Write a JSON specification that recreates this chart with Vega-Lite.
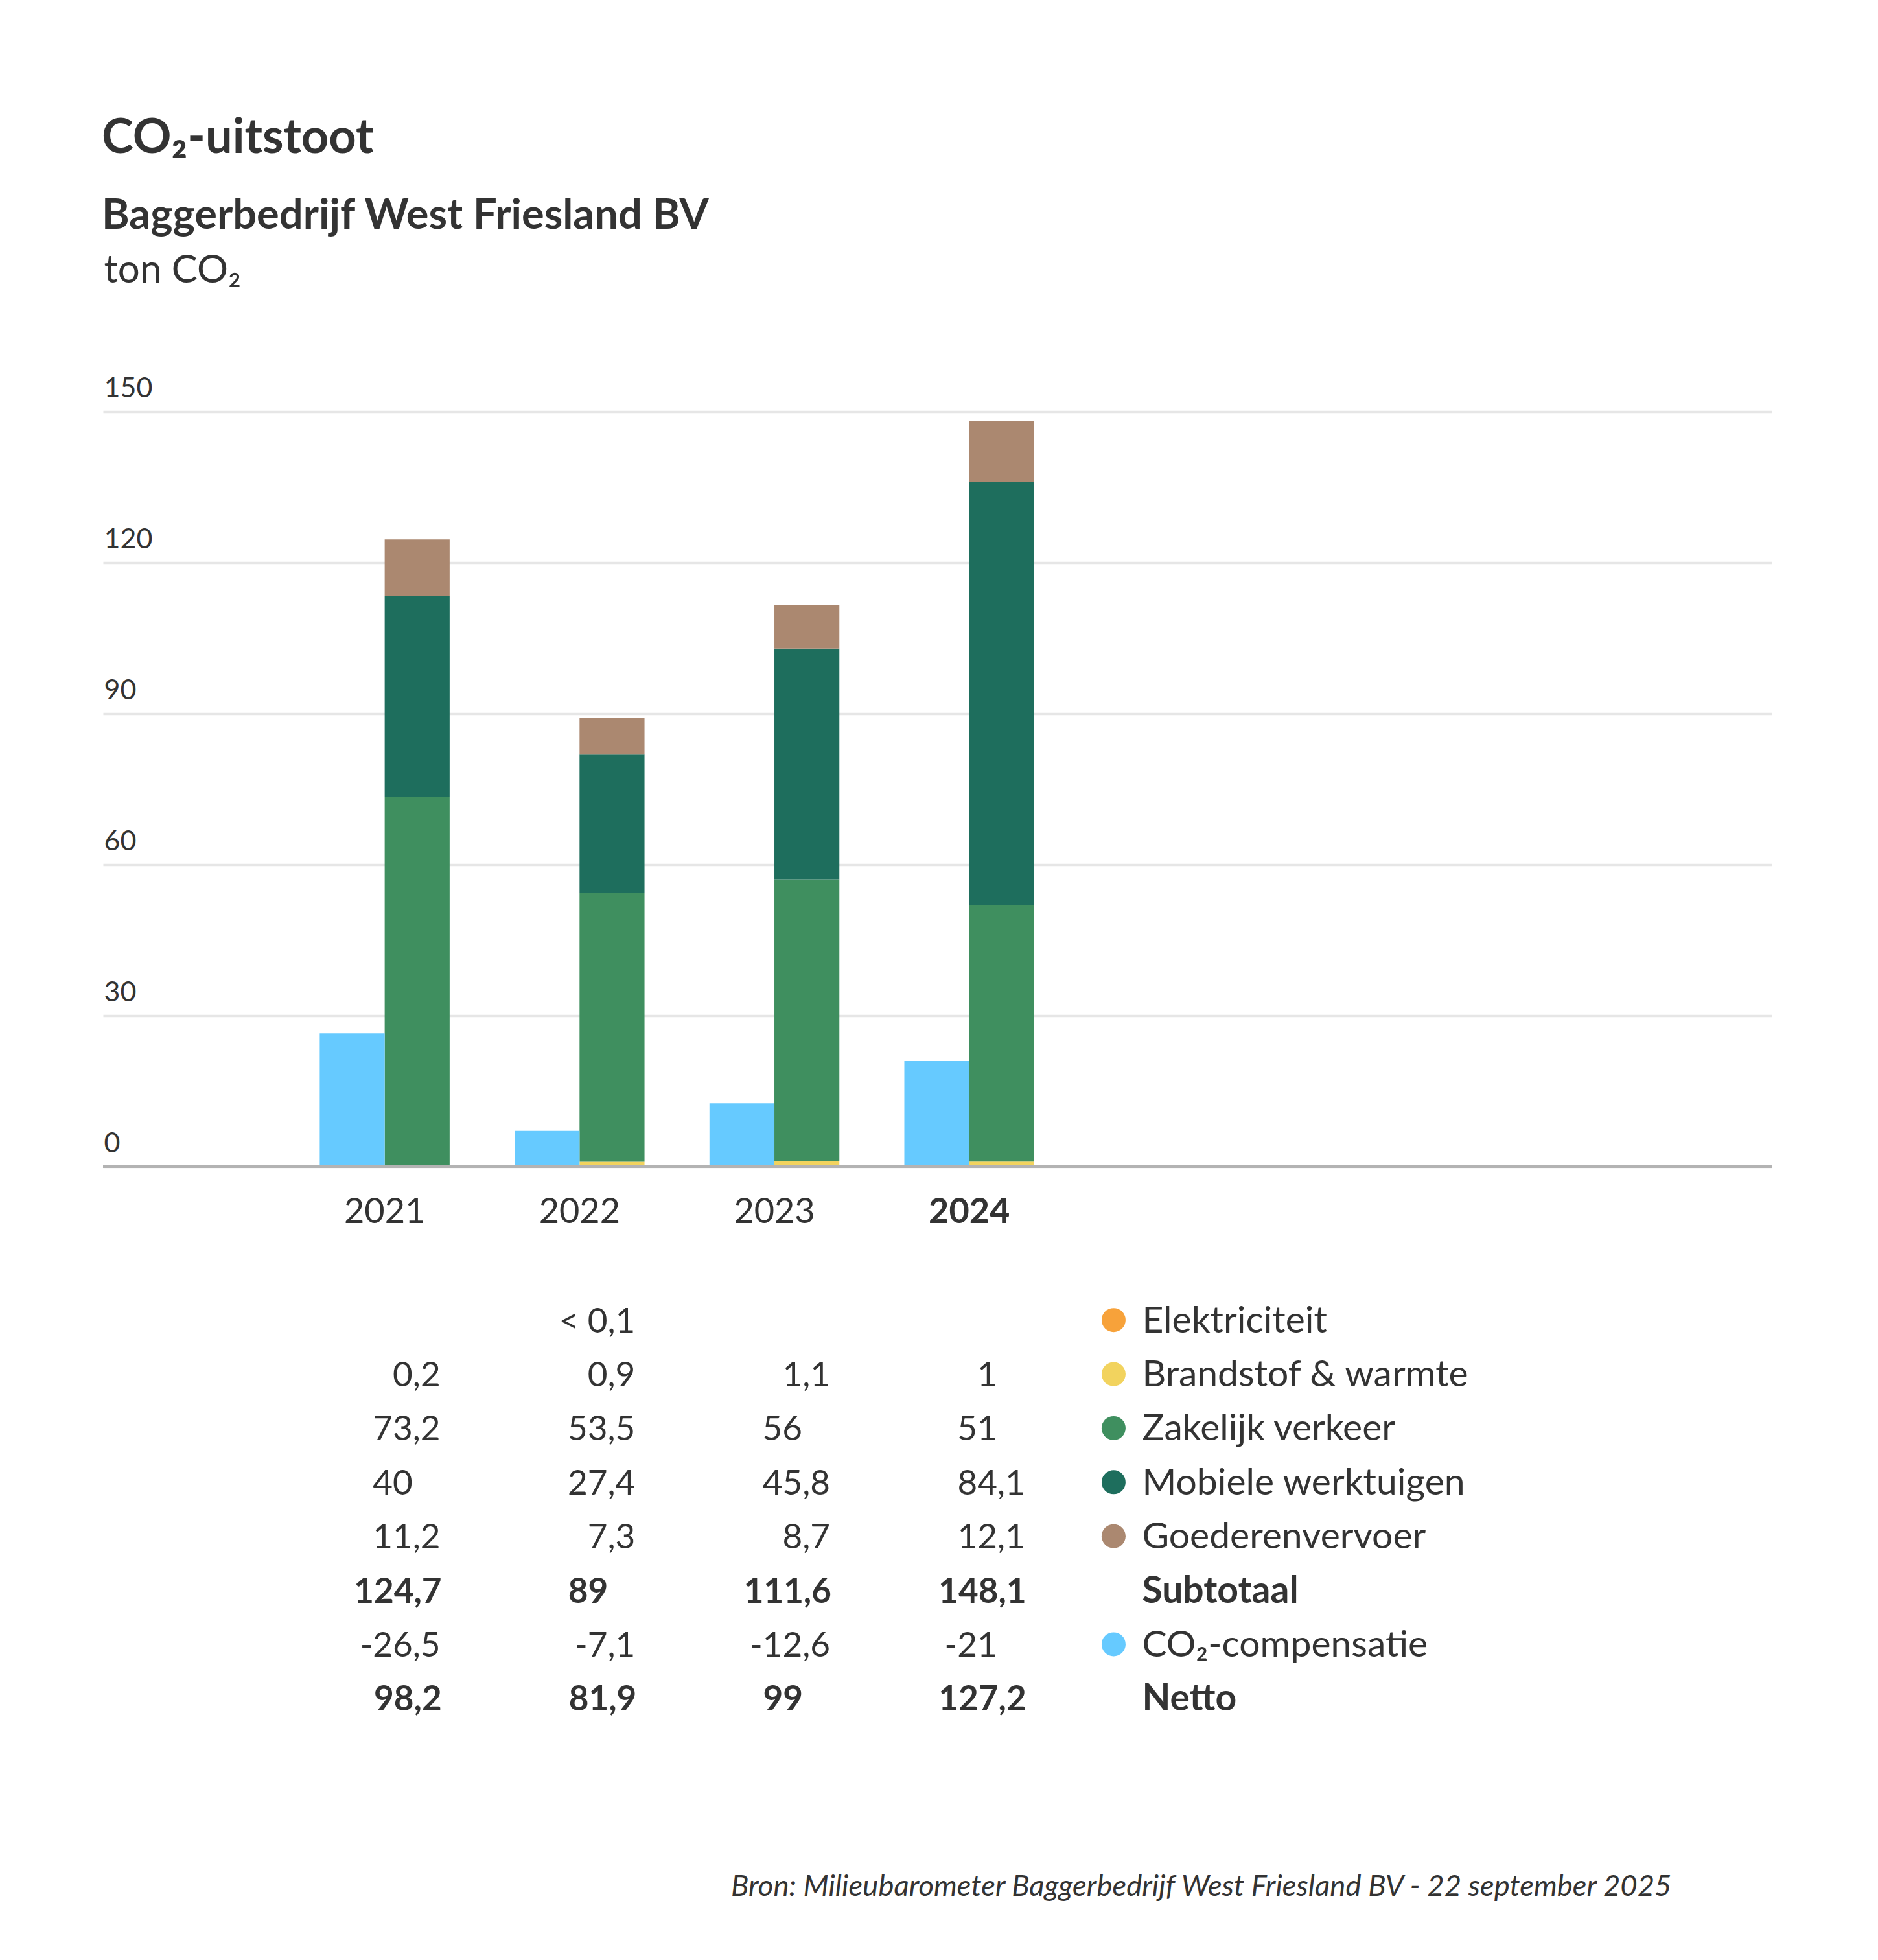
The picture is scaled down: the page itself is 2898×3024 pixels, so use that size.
{
  "$schema": "https://vega.github.io/schema/vega-lite/v6.json",
  "background": "white",
  "padding": {"top": 177, "left": 157, "right": 100, "bottom": 60},
  "config": {"font": "Lato", "view": {"stroke": null}},
  "title": {
    "text": "CO₂-uitstoot",
    "subtitle": "Baggerbedrijf West Friesland BV",
    "anchor": "start",
    "font": "Lato",
    "fontSize": 74,
    "fontWeight": "bold",
    "color": "#333333",
    "subtitleFont": "Lato",
    "subtitleFontSize": 65,
    "subtitleFontWeight": "bold",
    "subtitleColor": "#333333",
    "subtitlePadding": 50,
    "offset": 20
  },
  "datasets": {
    "bars": [
      {"year": "2021", "group": "stack", "cat": "Brandstof & warmte", "value": 0.2},
      {"year": "2021", "group": "stack", "cat": "Zakelijk verkeer", "value": 73.2},
      {"year": "2021", "group": "stack", "cat": "Mobiele werktuigen", "value": 40},
      {"year": "2021", "group": "stack", "cat": "Goederenvervoer", "value": 11.2},
      {"year": "2021", "group": "comp", "cat": "CO₂-compensatie", "value": 26.5},
      {"year": "2022", "group": "stack", "cat": "Elektriciteit", "value": 0.05},
      {"year": "2022", "group": "stack", "cat": "Brandstof & warmte", "value": 0.9},
      {"year": "2022", "group": "stack", "cat": "Zakelijk verkeer", "value": 53.5},
      {"year": "2022", "group": "stack", "cat": "Mobiele werktuigen", "value": 27.4},
      {"year": "2022", "group": "stack", "cat": "Goederenvervoer", "value": 7.3},
      {"year": "2022", "group": "comp", "cat": "CO₂-compensatie", "value": 7.1},
      {"year": "2023", "group": "stack", "cat": "Brandstof & warmte", "value": 1.1},
      {"year": "2023", "group": "stack", "cat": "Zakelijk verkeer", "value": 56},
      {"year": "2023", "group": "stack", "cat": "Mobiele werktuigen", "value": 45.8},
      {"year": "2023", "group": "stack", "cat": "Goederenvervoer", "value": 8.7},
      {"year": "2023", "group": "comp", "cat": "CO₂-compensatie", "value": 12.6},
      {"year": "2024", "group": "stack", "cat": "Brandstof & warmte", "value": 1},
      {"year": "2024", "group": "stack", "cat": "Zakelijk verkeer", "value": 51},
      {"year": "2024", "group": "stack", "cat": "Mobiele werktuigen", "value": 84.1},
      {"year": "2024", "group": "stack", "cat": "Goederenvervoer", "value": 12.1},
      {"year": "2024", "group": "comp", "cat": "CO₂-compensatie", "value": 21}
    ],
    "table": [
      {"year": "2021", "row": "Brandstof & warmte", "label": "0,2"},
      {"year": "2021", "row": "Zakelijk verkeer", "label": "73,2"},
      {"year": "2021", "row": "Mobiele werktuigen", "label": "40"},
      {"year": "2021", "row": "Goederenvervoer", "label": "11,2"},
      {"year": "2021", "row": "Subtotaal", "label": "124,7"},
      {"year": "2021", "row": "CO₂-compensatie", "label": "-26,5"},
      {"year": "2021", "row": "Netto", "label": "98,2"},
      {"year": "2022", "row": "Elektriciteit", "label": "< 0,1"},
      {"year": "2022", "row": "Brandstof & warmte", "label": "0,9"},
      {"year": "2022", "row": "Zakelijk verkeer", "label": "53,5"},
      {"year": "2022", "row": "Mobiele werktuigen", "label": "27,4"},
      {"year": "2022", "row": "Goederenvervoer", "label": "7,3"},
      {"year": "2022", "row": "Subtotaal", "label": "89"},
      {"year": "2022", "row": "CO₂-compensatie", "label": "-7,1"},
      {"year": "2022", "row": "Netto", "label": "81,9"},
      {"year": "2023", "row": "Brandstof & warmte", "label": "1,1"},
      {"year": "2023", "row": "Zakelijk verkeer", "label": "56"},
      {"year": "2023", "row": "Mobiele werktuigen", "label": "45,8"},
      {"year": "2023", "row": "Goederenvervoer", "label": "8,7"},
      {"year": "2023", "row": "Subtotaal", "label": "111,6"},
      {"year": "2023", "row": "CO₂-compensatie", "label": "-12,6"},
      {"year": "2023", "row": "Netto", "label": "99"},
      {"year": "2024", "row": "Brandstof & warmte", "label": "1"},
      {"year": "2024", "row": "Zakelijk verkeer", "label": "51"},
      {"year": "2024", "row": "Mobiele werktuigen", "label": "84,1"},
      {"year": "2024", "row": "Goederenvervoer", "label": "12,1"},
      {"year": "2024", "row": "Subtotaal", "label": "148,1"},
      {"year": "2024", "row": "CO₂-compensatie", "label": "-21"},
      {"year": "2024", "row": "Netto", "label": "127,2"}
    ],
    "legend": [
      {"row": "Elektriciteit"},
      {"row": "Brandstof & warmte"},
      {"row": "Zakelijk verkeer"},
      {"row": "Mobiele werktuigen"},
      {"row": "Goederenvervoer"},
      {"row": "Subtotaal"},
      {"row": "CO₂-compensatie"},
      {"row": "Netto"}
    ]
  },
  "spacing": 98,
  "vconcat": [
    {
      "width": 2575,
      "height": 1165,
      "data": {"name": "bars"},
      "layer": [
        {
          "transform": [
            {"filter": "datum.group === 'stack'"},
            {"calculate": "indexof(['Elektriciteit', 'Brandstof & warmte', 'Zakelijk verkeer', 'Mobiele werktuigen', 'Goederenvervoer'], datum.cat)", "as": "stackOrder"}
          ],
          "mark": {"type": "bar"},
          "encoding": {
            "x": {
              "field": "year",
              "type": "nominal",
              "scale": {"type": "band", "domain": ["2021", "2022", "2023", "2024", "col5", "col6", "col7"], "paddingInner": 0, "paddingOuter": 0.7817, "align": 0.6047},
              "axis": {
                "values": ["2021", "2022", "2023", "2024"],
                "title": null,
                "labelAngle": 0,
                "labelFont": "Lato",
                "labelFontSize": 54,
                "labelColor": "#333333",
                "labelFontWeight": {"condition": {"test": "datum.value === '2024'", "value": "bold"}, "value": "normal"},
                "labelBaseline": "alphabetic",
                "labelPadding": 86,
                "ticks": false,
                "tickSize": 0,
                "domain": false,
                "grid": false
              }
            },
            "xOffset": {
              "field": "group",
              "type": "nominal",
              "scale": {"domain": ["comp", "stack"], "paddingInner": 0, "paddingOuter": 0.5}
            },
            "color": {
              "field": "cat",
              "type": "nominal",
              "scale": {
                "domain": ["Elektriciteit", "Brandstof & warmte", "Zakelijk verkeer", "Mobiele werktuigen", "Goederenvervoer", "CO₂-compensatie"],
                "range": ["#F7A23A", "#F2D35E", "#3F8F5F", "#1E6E5D", "#AB8870", "#66CAFF"]
              },
              "legend": null
            },
            "order": {"field": "stackOrder", "type": "quantitative", "sort": "ascending"},
            "y": {
              "field": "value",
              "type": "quantitative",
              "stack": "zero",
              "scale": {"domain": [0, 150], "nice": false},
              "axis": {
                "values": [0, 30, 60, 90, 120, 150],
                "grid": true,
                "gridColor": "#e6e6e6",
                "gridWidth": 3.5,
                "domain": false,
                "ticks": false,
                "tickSize": 0,
                "labelAlign": "left",
                "labelBaseline": "alphabetic",
                "labelOffset": -23,
                "labelPadding": -1,
                "labelFont": "Lato",
                "labelFontSize": 43,
                "labelColor": "#333333",
                "title": "ton CO₂",
                "titleFont": "Lato",
                "titleAngle": 0,
                "titleAlign": "left",
                "titleBaseline": "alphabetic",
                "titleX": 1,
                "titleY": -200,
                "titleFontSize": 60,
                "titleFontWeight": "normal",
                "titleColor": "#333333"
              }
            }
          }
        },
        {
          "transform": [{"filter": "datum.group === 'comp'"}],
          "mark": {"type": "bar"},
          "encoding": {
            "x": {
              "field": "year",
              "type": "nominal",
              "scale": {"type": "band", "domain": ["2021", "2022", "2023", "2024", "col5", "col6", "col7"], "paddingInner": 0, "paddingOuter": 0.7817, "align": 0.6047},
              "axis": {
                "values": ["2021", "2022", "2023", "2024"],
                "title": null,
                "labelAngle": 0,
                "labelFont": "Lato",
                "labelFontSize": 54,
                "labelColor": "#333333",
                "labelFontWeight": {"condition": {"test": "datum.value === '2024'", "value": "bold"}, "value": "normal"},
                "labelBaseline": "alphabetic",
                "labelPadding": 86,
                "ticks": false,
                "tickSize": 0,
                "domain": false,
                "grid": false
              }
            },
            "xOffset": {
              "field": "group",
              "type": "nominal",
              "scale": {"domain": ["comp", "stack"], "paddingInner": 0, "paddingOuter": 0.5}
            },
            "color": {
              "field": "cat",
              "type": "nominal",
              "scale": {
                "domain": ["Elektriciteit", "Brandstof & warmte", "Zakelijk verkeer", "Mobiele werktuigen", "Goederenvervoer", "CO₂-compensatie"],
                "range": ["#F7A23A", "#F2D35E", "#3F8F5F", "#1E6E5D", "#AB8870", "#66CAFF"]
              },
              "legend": null
            },
            "y": {"field": "value", "type": "quantitative", "stack": null}
          }
        },
        {
          "mark": {"type": "rule", "color": "#b3b3b3", "strokeWidth": 4},
          "encoding": {"y": {"datum": 0, "type": "quantitative"}}
        }
      ]
    },
    {
      "width": 2575,
      "height": 667,
      "encoding": {
        "x": {
          "field": "year",
          "type": "nominal",
          "scale": {"type": "band", "domain": ["2021", "2022", "2023", "2024", "col5", "col6", "col7"], "paddingInner": 0, "paddingOuter": 0.7817, "align": 0.6047},
          "axis": {
            "labels": false,
            "ticks": false,
            "domain": false,
            "grid": false,
            "title": "Bron: Milieubarometer Baggerbedrijf West Friesland BV - 22 september 2025",
            "titleFont": "Lato",
            "titleFontStyle": "italic",
            "titleFontWeight": "normal",
            "titleFontSize": 45.5,
            "titleColor": "#333333",
            "titleAlign": "right",
            "titleBaseline": "alphabetic",
            "titleX": 2420,
            "titleY": 262
          }
        },
        "y": {
          "field": "row",
          "type": "nominal",
          "scale": {
            "type": "point",
            "padding": 0.5,
            "domain": ["Elektriciteit", "Brandstof & warmte", "Zakelijk verkeer", "Mobiele werktuigen", "Goederenvervoer", "Subtotaal", "CO₂-compensatie", "Netto"]
          },
          "axis": null
        }
      },
      "layer": [
        {
          "data": {"name": "table"},
          "transform": [{"filter": "datum.row !== 'Subtotaal' && datum.row !== 'Netto' && indexof(datum.label, ',') >= 0"}],
          "mark": {"type": "text", "align": "right", "baseline": "alphabetic", "dx": 86, "dy": 19, "fontSize": 53, "color": "#333333"},
          "encoding": {"text": {"field": "label"}}
        },
        {
          "data": {"name": "table"},
          "transform": [{"filter": "datum.row !== 'Subtotaal' && datum.row !== 'Netto' && indexof(datum.label, ',') < 0"}],
          "mark": {"type": "text", "align": "right", "baseline": "alphabetic", "dx": 43, "dy": 19, "fontSize": 53, "color": "#333333"},
          "encoding": {"text": {"field": "label"}}
        },
        {
          "data": {"name": "table"},
          "transform": [{"filter": "(datum.row === 'Subtotaal' || datum.row === 'Netto') && indexof(datum.label, ',') >= 0"}],
          "mark": {"type": "text", "align": "right", "baseline": "alphabetic", "dx": 88, "dy": 19, "fontSize": 53, "fontWeight": "bold", "color": "#333333"},
          "encoding": {"text": {"field": "label"}}
        },
        {
          "data": {"name": "table"},
          "transform": [{"filter": "(datum.row === 'Subtotaal' || datum.row === 'Netto') && indexof(datum.label, ',') < 0"}],
          "mark": {"type": "text", "align": "right", "baseline": "alphabetic", "dx": 44, "dy": 19, "fontSize": 53, "fontWeight": "bold", "color": "#333333"},
          "encoding": {"text": {"field": "label"}}
        },
        {
          "data": {"name": "legend"},
          "transform": [{"filter": "datum.row !== 'Subtotaal' && datum.row !== 'Netto'"}],
          "mark": {"type": "point", "shape": "circle", "filled": true, "opacity": 1, "size": 1369, "xOffset": -78},
          "encoding": {
            "x": {"datum": "col5", "type": "nominal"},
            "color": {
              "field": "row",
              "type": "nominal",
              "scale": {
                "domain": ["Elektriciteit", "Brandstof & warmte", "Zakelijk verkeer", "Mobiele werktuigen", "Goederenvervoer", "CO₂-compensatie"],
                "range": ["#F7A23A", "#F2D35E", "#3F8F5F", "#1E6E5D", "#AB8870", "#66CAFF"]
              },
              "legend": null
            }
          }
        },
        {
          "data": {"name": "legend"},
          "transform": [{"filter": "datum.row !== 'Subtotaal' && datum.row !== 'Netto'"}],
          "mark": {"type": "text", "align": "left", "baseline": "alphabetic", "dx": -34, "dy": 19, "fontSize": 57, "color": "#333333"},
          "encoding": {"x": {"datum": "col5", "type": "nominal"}, "text": {"field": "row"}}
        },
        {
          "data": {"name": "legend"},
          "transform": [{"filter": "datum.row === 'Subtotaal' || datum.row === 'Netto'"}],
          "mark": {"type": "text", "align": "left", "baseline": "alphabetic", "dx": -34, "dy": 19, "fontSize": 57, "fontWeight": "bold", "color": "#333333"},
          "encoding": {"x": {"datum": "col5", "type": "nominal"}, "text": {"field": "row"}}
        }
      ]
    }
  ]
}
